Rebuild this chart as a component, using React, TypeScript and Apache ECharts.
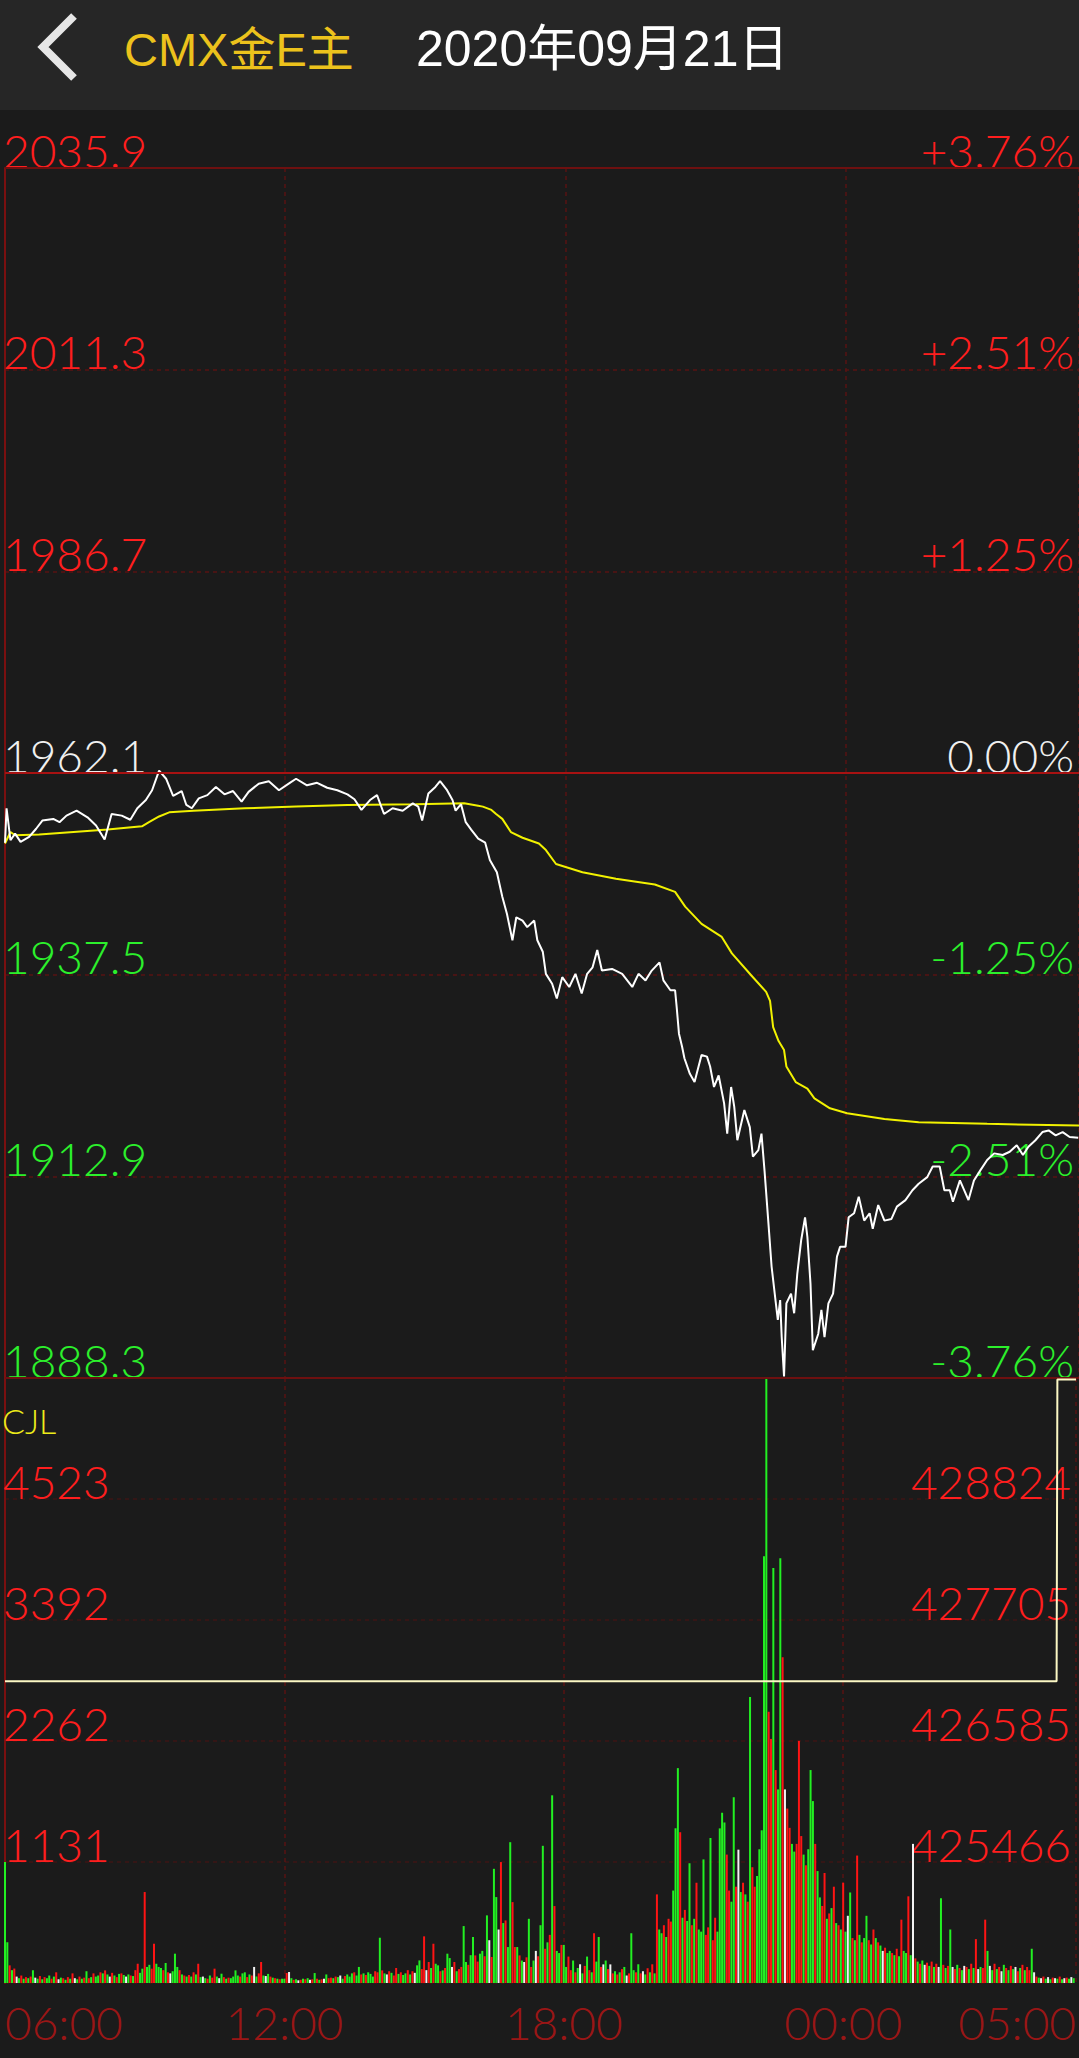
import React, { useEffect, useRef } from "react";
import * as echarts from "echarts";

const TITLE = "CMX金E主";
const DATE_TEXT = "2020年09月21日";
const VOLUME_NAME = "CJL";

const PRICE_MIN = 1888.3;
const PRICE_MAX = 2035.9;
const PRICE_BASE = 1962.1;
const PRICE_STEP = 24.6;

const VOL_MAX = 5653.75;
const VOL_STEP = 1130.75;

const OI_MIN = 424346.67;
const OI_STEP = 1119.332;
const OI_MAX = 429943.33;

const SESSION_MINUTES = 1380;
const SESSION_START = 360; // 06:00
const TIME_TICK_STEP = 360;
const VOLUME_STEP_MINUTES = 3;

// [minute since 06:00, price]
const pricePoints: [number, number][] = [
  [0,1953.6],[2,1957.8],[7,1953.9],[13,1954.7],[20,1953.7],[31,1954.3],[40,1955.3],[48,1956.3],[62,1956.5],[70,1956.1],
  [79,1956.9],[92,1957.5],[106,1956.7],[117,1955.7],[128,1954.0],[137,1957.1],[150,1956.9],[161,1956.4],[170,1957.8],[181,1958.8],
  [189,1960.0],[198,1962.4],[207,1961.4],[216,1959.3],[227,1959.9],[233,1958.2],[240,1957.8],[249,1959.0],[260,1959.4],[271,1960.4],
  [282,1959.5],[293,1959.9],[304,1958.6],[313,1959.8],[326,1960.8],[339,1961.1],[352,1960.0],[366,1960.9],[374,1961.4],[388,1960.6],
  [401,1960.9],[414,1960.3],[427,1960.0],[440,1959.5],[449,1958.9],[458,1957.6],[469,1958.8],[478,1959.4],[487,1957.1],[498,1957.8],
  [511,1957.5],[524,1958.4],[531,1958.0],[536,1956.3],[544,1959.6],[553,1960.4],[559,1961.1],[568,1960.0],[575,1958.8],[579,1957.5],
  [586,1958.3],[592,1956.1],[599,1955.2],[608,1954.1],[617,1953.6],[623,1951.5],[632,1950.0],[639,1947.0],[645,1944.9],[652,1941.7],
  [657,1944.5],[665,1944.1],[671,1943.3],[680,1944.1],[684,1941.7],[691,1940.3],[695,1937.6],[703,1936.4],[709,1934.6],[716,1937.2],
  [725,1936.0],[733,1937.6],[741,1935.2],[748,1937.6],[755,1938.4],[761,1940.5],[767,1938.0],[780,1938.2],[793,1937.6],[806,1936.0],
  [814,1937.6],[823,1936.8],[831,1938.0],[841,1939.0],[846,1936.8],[855,1935.6],[861,1935.6],[863,1933.6],[866,1930.3],[870,1928.7],
  [873,1927.3],[880,1925.4],[886,1924.4],[895,1927.7],[902,1927.5],[906,1926.3],[911,1923.8],[917,1925.2],[924,1921.8],[928,1918.1],
  [933,1923.8],[937,1921.4],[941,1917.3],[950,1921.0],[957,1918.9],[961,1915.3],[968,1916.1],[972,1918.1],[976,1913.5],[981,1907.1],
  [985,1901.9],[990,1897.8],[993,1895.4],[996,1897.8],[998,1893.3],[1001,1888.5],[1004,1897.4],[1010,1898.6],[1014,1896.2],[1018,1901.0],
  [1023,1905.1],[1028,1907.9],[1031,1905.5],[1035,1899.8],[1038,1891.7],[1045,1893.7],[1049,1896.6],[1053,1893.3],[1058,1897.4],[1064,1898.6],
  [1069,1903.1],[1073,1904.3],[1080,1904.3],[1084,1907.9],[1091,1908.4],[1097,1910.4],[1104,1907.5],[1111,1908.4],[1115,1906.5],[1122,1909.4],
  [1130,1907.5],[1139,1907.7],[1146,1909.2],[1157,1910.0],[1166,1911.2],[1174,1912.0],[1185,1912.8],[1192,1914.1],[1201,1914.1],[1207,1911.2],
  [1214,1911.2],[1218,1909.8],[1227,1912.4],[1238,1910.0],[1245,1912.4],[1253,1913.6],[1262,1914.9],[1271,1915.7],[1282,1915.5],[1291,1915.9],
  [1300,1916.7],[1308,1915.5],[1315,1916.5],[1324,1917.3],[1333,1918.3],[1341,1918.5],[1350,1917.9],[1359,1918.3],[1368,1917.7],[1379,1917.6]
];

// [minute, average price]
const avgPoints: [number, number][] = [
  [0,1953.5],[7,1954.9],[13,1954.5],[44,1954.6],[88,1954.9],[132,1955.2],[176,1955.6],[185,1956.1],[198,1956.8],[211,1957.3],
  [242,1957.5],[308,1957.8],[374,1958.0],[440,1958.2],[528,1958.3],[590,1958.4],[608,1958.1],[614,1958.0],[625,1957.6],[631,1957.1],
  [639,1956.5],[650,1954.9],[665,1954.2],[686,1953.5],[695,1952.7],[708,1951.0],[742,1950.0],[785,1949.2],[835,1948.5],[861,1947.6],
  [874,1945.8],[895,1943.7],[921,1942.1],[934,1940.1],[959,1937.4],[978,1935.4],[983,1934.3],[987,1931.1],[994,1929.4],[1001,1928.3],
  [1004,1926.3],[1016,1924.4],[1031,1923.6],[1040,1922.4],[1060,1921.2],[1082,1920.6],[1130,1919.9],[1174,1919.5],[1262,1919.3],[1380,1919.1]
];

// volume per 3-minute bucket, one row per hour
const volumeRows: number[][] = [
  [1130,380,165,120,135,60,45,70,40,55,45,60,118,50,40,65,35,55,45,70],
  [40,60,100,35,50,45,30,55,40,90,45,35,60,40,50,110,45,55,90,60],
  [70,100,90,118,80,60,95,70,55,85,90,75,60,80,70,65,120,180,95,134],
  [850,150,170,134,367,180,150,140,120,187,100,90,110,274,150,120,80,70,60,75],
  [60,100,80,180,55,60,45,40,70,50,134,60,45,87,55,40,50,45,60,118],
  [70,60,90,100,55,80,70,150,60,90,196,70,65,85,60,50,45,40,35,40],
  [40,93,103,45,30,35,25,30,40,35,45,30,35,93,40,30,35,40,80,45],
  [50,45,60,55,70,40,65,80,60,90,100,70,150,80,90,75,100,85,60,110],
  [100,423,118,90,80,110,95,70,140,85,100,75,90,120,80,110,95,165,211,130],
  [436,120,196,140,367,180,165,110,118,140,274,233,150,196,110,130,150,532,196,170],
  [260,430,258,200,274,300,250,632,400,243,1067,803,500,1130,560,585,336,1316,756,336],
  [336,258,210,196,240,600,150,210,300,250,540,1282,320,380,450,1754,719,300,280,356],
  [356,150,247,120,210,100,140,175,90,160,247,120,100,465,200,430,150,174,210,130],
  [174,90,110,80,100,130,150,70,90,465,120,100,175,90,110,80,138,100,175,90],
  [828,500,465,540,430,600,574,864,1446,2008,1409,610,683,580,1119,540,600,937,500,480],
  [1155,450,520,1355,400,610,480,1445,1591,1500,1200,864,760,1736,900,1246,850,937,828,760],
  [2673,1082,900,1000,1250,1427,3988,5654,2535,2281,3879,1990,1809,3970,3044,1809,1630,1450,1300,1228],
  [1300,2263,1373,1200,1100,1250,1990,1700,1300,1046,800,720,1028,600,650,700,900,560,540,500],
  [937,480,628,846,420,400,1191,450,380,420,628,400,360,500,420,380,350,300,330,280],
  [300,280,260,320,250,592,300,280,810,260,1300,230,200,180,210,170,190,160,200,150],
  [180,150,792,170,140,160,500,150,130,170,140,120,160,150,130,180,140,410,130,150],
  [140,592,300,160,120,180,130,150,110,170,140,120,160,130,150,110,140,170,120,150],
  [120,320,100,60,50,45,60,40,55,35,50,45,40,60,35,45,50,40,55,45]
];

// bar colour codes: r = up, g = down, w = unchanged
const volumeColorRows: string[] = [
  "ggrgrwgrgrgrgwgrgrgg",
  "rgrwgrgrgrwgrgrgrgrg",
  "grgrgwrgrgrgwgrgrrgg",
  "rggrrgggrgrwgggrgrgr",
  "grgrgwgrgrrgwgrgrggg",
  "grggrgrwgrrgwgrgrgrg",
  "grwgrgwrgrgwrgrgrwgr",
  "rgrgwgrgggrggrgrgggr",
  "rgrgwrgrrgrggrgrwggr",
  "rwrgrggrgrggwrgrrggr",
  "ggrrggrgwrggwrgrggrr",
  "grgwrgrgwrggrgrgrggr",
  "ggrrgrgwgrgrgrggrwgr",
  "wrgrgrgwrggrgrwgrgrg",
  "rggrgrrgggrgrggrgrgg",
  "grrgrrggggrrggrwgrgr",
  "grrgggggrrgrggrwrrgg",
  "rrrgrgggrggrrgrgrgrg",
  "rgwgrgrgrggrgrgrgwrg",
  "grgrgrggrgwrgrgwrgrg",
  "rwgrgrgwrgrgwrgrgrwg",
  "rrgwgrgrwgrgrgwrgrgr",
  "rgwrgwrgwgrwgrgwrgwg"
];

// open interest (holding) line
const oiPoints: [number, number][] = [
  [0,427138],[1355,427138],[1356,429930],[1380,429930]
];

const RED = "#ff1e1e";
const GREEN = "#2cf02c";
const WHITE = "#f0f0f0";
const BAR_COLORS: Record<string, string> = { r: "#ff1414", g: "#22f022", w: "#f2f2f2" };
const FONT = "Lato, Roboto, 'Liberation Sans', sans-serif";
const LABEL_SIZE = 46;

function pad(n: number) {
  return n < 10 ? "0" + n : String(n);
}
function timeLabel(v: number) {
  const t = (SESSION_START + Math.round(v)) % 1440;
  return pad(Math.floor(t / 60)) + ":" + pad(t % 60);
}
function priceColor(v: number) {
  if (v > PRICE_BASE + 0.01) return RED;
  if (v < PRICE_BASE - 0.01) return GREEN;
  return WHITE;
}

export default function App() {
  const ref = useRef<HTMLDivElement>(null);

  useEffect(() => {
    if (!ref.current) return;
    const chart = echarts.init(ref.current, undefined, { renderer: "svg" });

    const colorCodes = volumeColorRows.join("");
    const volumeData = volumeRows.flat().map((v, i) => ({
      value: [i * VOLUME_STEP_MINUTES, v],
      itemStyle: { color: BAR_COLORS[colorCodes[i]] || BAR_COLORS.w },
    }));

    const pctMax = ((PRICE_MAX - PRICE_BASE) / PRICE_BASE) * 100;
    const pctStep = (PRICE_STEP / PRICE_BASE) * 100;

    const labelBase = {
      inside: true,
      fontSize: LABEL_SIZE,
      fontFamily: FONT,
      fontWeight: 300 as any,
      verticalAlign: "bottom" as const,
      lineHeight: 36,
    };
    const dashed = { color: "#581313", type: [4, 4] as any, width: 1.5 };
    const dashedFaint = { color: "#3e1616", type: [4, 4] as any, width: 1.5 };

    const option: any = {
      animation: false,
      backgroundColor: "#1b1b1b",
      grid: [
        { left: 2, right: 0, top: 168, height: 1210 },
        { left: 2, right: 0, top: 1378, height: 605 },
      ],
      xAxis: [
        {
          type: "value", gridIndex: 0, min: 0, max: SESSION_MINUTES, interval: TIME_TICK_STEP,
          axisLine: { show: false }, axisTick: { show: false }, axisLabel: { show: false },
          splitLine: { show: true, lineStyle: dashed },
        },
        {
          type: "value", gridIndex: 1, min: 0, max: SESSION_MINUTES, interval: TIME_TICK_STEP,
          axisLine: { show: false }, axisTick: { show: false },
          axisLabel: {
            show: true, formatter: timeLabel, color: "#9a1616", fontSize: LABEL_SIZE, fontFamily: FONT, fontWeight: 300,
            margin: 39, verticalAlign: "middle", lineHeight: 48,
            showMinLabel: true, showMaxLabel: true, alignMinLabel: "left", alignMaxLabel: "right",
          },
          splitLine: { show: true, lineStyle: dashed },
        },
      ],
      yAxis: [
        {
          type: "value", gridIndex: 0, position: "left", min: PRICE_MIN, max: PRICE_MAX, interval: PRICE_STEP,
          axisLine: { show: true, lineStyle: { color: "#7a1010", width: 2 } }, axisTick: { show: false },
          axisLabel: {
            ...labelBase, margin: -2, showMinLabel: true, showMaxLabel: true,
            formatter: (v: number) => Number(v).toFixed(1),
            color: (v: any) => priceColor(Number(v)),
          },
          splitLine: { show: true, lineStyle: dashed },
        },
        {
          type: "value", gridIndex: 0, position: "right", min: -pctMax, max: pctMax, interval: pctStep,
          axisLine: { show: false }, axisTick: { show: false }, splitLine: { show: false },
          axisLabel: {
            ...labelBase, margin: 5, showMinLabel: true, showMaxLabel: true,
            formatter: (v: number) => {
              const n = Number(v);
              if (Math.abs(n) < 1e-6) return "0.00%";
              return (n > 0 ? "+" : "") + n.toFixed(2) + "%";
            },
            color: (v: any) => {
              const n = Number(v);
              return Math.abs(n) < 1e-6 ? WHITE : n > 0 ? RED : GREEN;
            },
          },
        },
        {
          type: "value", gridIndex: 1, position: "left", min: 0, max: VOL_MAX, interval: VOL_STEP,
          axisLine: { show: true, lineStyle: { color: "#7a1010", width: 2 } }, axisTick: { show: false },
          axisLabel: {
            ...labelBase, margin: -2, showMinLabel: false, showMaxLabel: false, color: RED,
            formatter: (v: number) => String(Math.round(Number(v))),
          },
          splitLine: { show: true, lineStyle: dashedFaint },
        },
        {
          type: "value", gridIndex: 1, position: "right", min: OI_MIN, max: OI_MAX, interval: OI_STEP,
          axisLine: { show: false }, axisTick: { show: false }, splitLine: { show: false },
          axisLabel: {
            ...labelBase, margin: 5, showMinLabel: false, showMaxLabel: false, color: RED,
            formatter: (v: number) => String(Math.round(Number(v))),
          },
        },
      ],
      series: [
        {
          name: "均价", type: "line", xAxisIndex: 0, yAxisIndex: 0, data: avgPoints, showSymbol: false,
          z: 3, lineStyle: { color: "#f2f200", width: 2 }, silent: true,
          markLine: {
            silent: true, symbol: ["none", "none"], label: { show: false },
            data: [
              { yAxis: PRICE_MAX, lineStyle: { color: "#6e1010", width: 2, type: "solid" } },
              { yAxis: PRICE_BASE, lineStyle: { color: "#a81212", width: 2, type: "solid" } },
              { yAxis: PRICE_MIN, lineStyle: { color: "#6e1010", width: 2, type: "solid" } },
            ],
          },
        },
        {
          name: "价格", type: "line", xAxisIndex: 0, yAxisIndex: 0, data: pricePoints, showSymbol: false,
          z: 4, lineStyle: { color: "#ffffff", width: 2 }, silent: true,
        },
        {
          name: VOLUME_NAME, type: "bar", xAxisIndex: 1, yAxisIndex: 2, data: volumeData,
          barWidth: 2, z: 2, silent: true,
        },
        {
          name: "持仓", type: "line", xAxisIndex: 1, yAxisIndex: 3, data: oiPoints, showSymbol: false,
          z: 5, lineStyle: { color: "#fbf7c4", width: 2 }, silent: true,
        },
      ],
      graphic: [
        { type: "rect", z: 100, shape: { x: 0, y: 0, width: 1079, height: 110 }, style: { fill: "#262626" } },
        {
          type: "polyline", z: 101, shape: { points: [[74, 16], [43, 47], [74, 78]] },
          style: { stroke: "#e6e6e6", lineWidth: 8, fill: null },
        },
        {
          type: "text", z: 101, x: 124, y: 49,
          style: { text: TITLE, fill: "#ecc21c", font: "47px 'Liberation Sans', 'Noto Sans CJK SC', sans-serif", verticalAlign: "middle" },
        },
        {
          type: "text", z: 101, x: 416, y: 49,
          style: { text: DATE_TEXT, fill: "#ffffff", font: "50px 'Liberation Sans', 'Noto Sans CJK SC', sans-serif", verticalAlign: "middle" },
        },
        {
          type: "text", z: 101, x: 2, y: 1420,
          style: { text: VOLUME_NAME, fill: "#ecec1a", font: "300 34px " + FONT, verticalAlign: "middle" },
        },
      ],
    };

    chart.setOption(option);
    return () => chart.dispose();
  }, []);

  return (
    <div
      ref={ref}
      style={{ position: "absolute", left: 0, top: 0, width: 1079, height: 2058 }}
    />
  );
}
